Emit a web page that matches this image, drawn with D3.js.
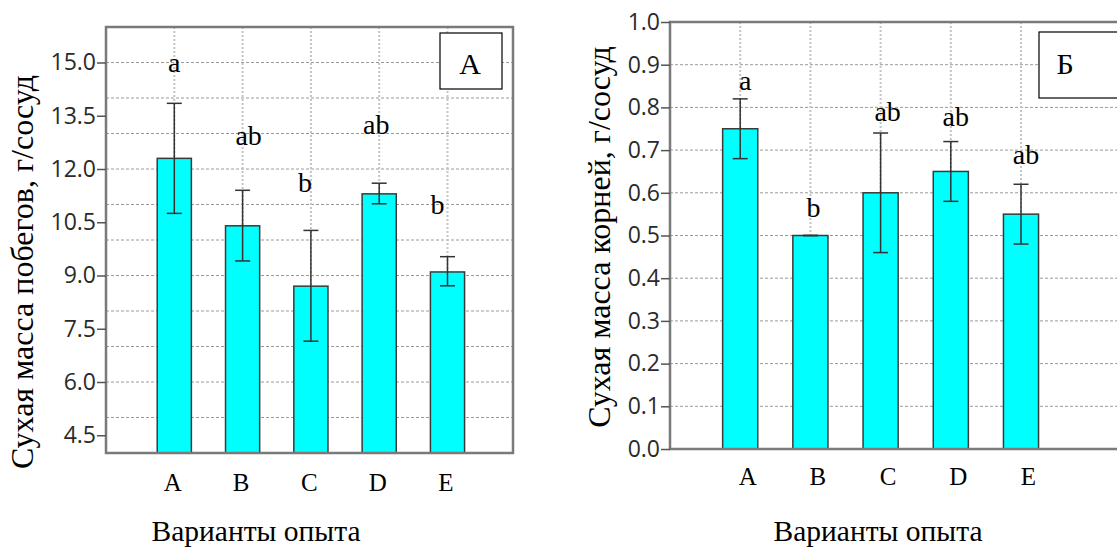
<!DOCTYPE html>
<html>
<head>
<meta charset="utf-8">
<script src="https://cdn.jsdelivr.net/npm/d3@7"></script>
<style>
  html, body { margin: 0; padding: 0; background: #fff; }
  svg { display: block; }
</style>
</head>
<body>
<svg id="chart" width="1117" height="547"></svg>
<script>
// ---------- DATA ----------
const categories = ["A", "B", "C", "D", "E"];

// Panel A: shoot dry mass, g/vessel
const shootMean   = [12.3, 10.4, 8.7, 11.3, 9.1];
const shootErrHi  = [13.85, 11.4, 10.27, 11.6, 9.53];
const shootErrLo  = [10.75, 9.41, 7.15, 11.02, 8.71];
const shootLetters = ["a", "ab", "b", "ab", "b"];
const shootLetterY = [14.74, 12.67, 11.35, 12.98, 10.73];
const shootTicks  = [4.5, 6.0, 7.5, 9.0, 10.5, 12.0, 13.5, 15.0];
const shootGrid   = [5, 6, 7, 8, 9, 10, 11, 12, 13, 14, 15];

// Panel Б: root dry mass, g/vessel
const rootMean    = [0.75, 0.50, 0.60, 0.65, 0.55];
const rootErrHi   = [0.82, 0.50, 0.74, 0.72, 0.62];
const rootErrLo   = [0.68, 0.50, 0.46, 0.58, 0.48];
const rootLetters = ["a", "b", "ab", "ab", "ab"];
const rootLetterY = [0.841, 0.543, 0.767, 0.757, 0.667];
const rootTicks   = [0.0, 0.1, 0.2, 0.3, 0.4, 0.5, 0.6, 0.7, 0.8, 0.9, 1.0];
const rootGrid    = [0.1, 0.2, 0.3, 0.4, 0.5, 0.6, 0.7, 0.8, 0.9];

const xTitle = "Варианты опыта";

// ---------- DRAWING ----------
const svg = d3.select("#chart");
const serif = "'Liberation Serif', 'Times New Roman', serif";
const sans = "'Open Sans', 'Noto Sans', sans-serif";

function panel(cfg) {
  const g = svg.append("g");
  const x = d3.scalePoint().domain(categories).range([cfg.left, cfg.left + cfg.slot * 6]).padding(1);
  const y = d3.scaleLinear().domain(cfg.domain).range([cfg.bottom, cfg.top]);
  const bw = cfg.slot * 0.5;
  const frameRight = cfg.frameRight;

  // horizontal grid
  g.selectAll(".hg").data(cfg.grid).join("line")
    .attr("x1", cfg.left).attr("x2", frameRight)
    .attr("y1", d => y(d)).attr("y2", d => y(d))
    .attr("stroke", "#9a9a9a").attr("stroke-width", 1).attr("stroke-dasharray", "3,2");
  // vertical grid
  g.selectAll(".vg").data(categories).join("line")
    .attr("x1", d => x(d)).attr("x2", d => x(d))
    .attr("y1", cfg.top).attr("y2", cfg.bottom)
    .attr("stroke", "#c4c4c4").attr("stroke-width", 2).attr("stroke-dasharray", "2,2");

  // bars
  g.selectAll(".bar").data(cfg.mean).join("rect")
    .attr("x", (d, i) => x(categories[i]) - bw / 2)
    .attr("width", bw)
    .attr("y", d => y(d))
    .attr("height", d => cfg.bottom - y(d))
    .attr("fill", "#00ffff").attr("stroke", "#3a3a3a").attr("stroke-width", 1.5);

  // error bars
  const eb = g.selectAll(".eb").data(cfg.mean).join("g");
  eb.append("line")
    .attr("x1", (d, i) => x(categories[i])).attr("x2", (d, i) => x(categories[i]))
    .attr("y1", (d, i) => y(cfg.hi[i])).attr("y2", (d, i) => y(cfg.lo[i]))
    .attr("stroke", "#333").attr("stroke-width", 1.5);
  [cfg.hi, cfg.lo].forEach(arr => {
    eb.append("line")
      .attr("x1", (d, i) => x(categories[i]) - 7.5).attr("x2", (d, i) => x(categories[i]) + 7.5)
      .attr("y1", (d, i) => y(arr[i])).attr("y2", (d, i) => y(arr[i]))
      .attr("stroke", "#333").attr("stroke-width", 1.5);
  });

  // significance letters
  g.selectAll(".lt").data(cfg.letters).join("text")
    .attr("x", (d, i) => x(categories[i]) + cfg.letterDx[i])
    .attr("y", (d, i) => y(cfg.letterY[i]))
    .attr("text-anchor", "middle")
    .attr("font-family", serif).attr("font-size", 28).attr("fill", "#000")
    .text(d => d);

  // frame
  g.append("rect")
    .attr("x", cfg.left).attr("y", cfg.top)
    .attr("width", frameRight - cfg.left).attr("height", cfg.bottom - cfg.top)
    .attr("fill", "none").attr("stroke", "#7a7a7a").attr("stroke-width", 2.5);

  // y axis
  const ya = g.append("g").attr("transform", `translate(${cfg.left},0)`)
    .call(d3.axisLeft(y).tickValues(cfg.ticks).tickFormat(d3.format(".1f")).tickSize(9).tickPadding(1));
  ya.select(".domain").remove();
  ya.selectAll(".tick line").attr("stroke", "#555").attr("stroke-width", 1.5);
  ya.selectAll(".tick text").attr("font-family", sans).attr("font-size", cfg.tickFont)
    .attr("fill", "#2a2a2a");

  // x axis labels
  const xa = g.append("g").attr("transform", `translate(${cfg.xLabelDx},${cfg.bottom})`)
    .call(d3.axisBottom(x).tickSize(0).tickPadding(cfg.xPad));
  xa.select(".domain").remove();
  xa.selectAll(".tick text").attr("font-family", serif).attr("font-size", 25).attr("fill", "#000");

  // panel box label
  g.append("rect").attr("x", cfg.box[0]).attr("y", cfg.box[1])
    .attr("width", cfg.box[2]).attr("height", cfg.box[3])
    .attr("fill", "#fff").attr("stroke", "#000").attr("stroke-width", 1.2);
  g.append("text").attr("x", cfg.boxText[0]).attr("y", cfg.boxText[1])
    .attr("text-anchor", "middle").attr("font-family", serif).attr("font-size", 30)
    .text(cfg.boxLabel);

  // axis titles
  g.append("text")
    .attr("transform", `translate(${cfg.yTitlePos[0]},${cfg.yTitlePos[1]}) rotate(-90)`)
    .attr("text-anchor", "middle").attr("font-family", serif).attr("font-size", cfg.yTitleFont)
    .text(cfg.yTitle);
  g.append("text")
    .attr("x", cfg.xTitlePos[0]).attr("y", cfg.xTitlePos[1])
    .attr("text-anchor", "middle").attr("font-family", serif).attr("font-size", 29.5)
    .text(xTitle);
}

panel({
  left: 106, top: 27, bottom: 453, slot: 68.3, frameRight: 513,
  domain: [4, 16], ticks: shootTicks, grid: shootGrid,
  mean: shootMean, hi: shootErrHi, lo: shootErrLo,
  letters: shootLetters, letterY: shootLetterY, letterDx: [0, 6, -6, -3, -10],
  tickFont: 23, xLabelDx: -2, xPad: 20,
  box: [440, 33, 62, 56], boxText: [470, 74], boxLabel: "А",
  yTitle: "Сухая масса побегов, г/сосуд", yTitlePos: [33, 272], yTitleFont: 32,
  xTitlePos: [256, 541]
});

panel({
  left: 670, top: 22, bottom: 449, slot: 70.2, frameRight: 1200,
  domain: [0, 1], ticks: rootTicks, grid: rootGrid,
  mean: rootMean, hi: rootErrHi, lo: rootErrLo,
  letters: rootLetters, letterY: rootLetterY, letterDx: [5, 3, 7, 5, 5],
  tickFont: 23, xLabelDx: 7, xPad: 18,
  box: [1039, 32, 120, 66], boxText: [1065, 74], boxLabel: "Б",
  yTitle: "Сухая масса корней, г/сосуд", yTitlePos: [610, 237], yTitleFont: 32,
  xTitlePos: [878, 541]
});
</script>
</body>
</html>
